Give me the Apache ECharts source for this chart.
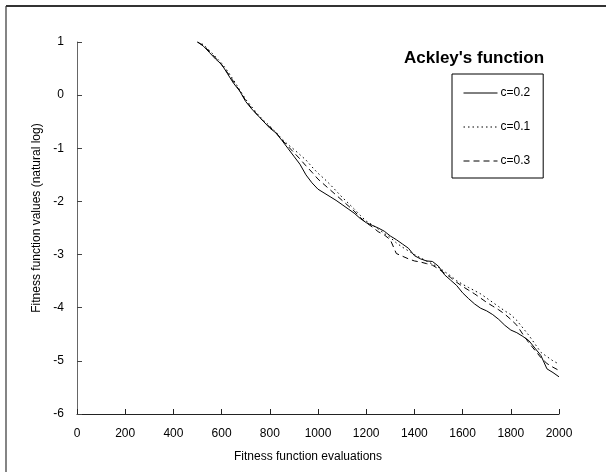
<!DOCTYPE html>
<html>
<head>
<meta charset="utf-8">
<script src="https://cdn.jsdelivr.net/npm/echarts@6/dist/echarts.min.js"></script>
<style>
  html, body { margin: 0; padding: 0; background: #fff; }
  #chart { width: 606px; height: 472px; }
</style>
</head>
<body>
<div id="chart"></div>
<script>
// Fitness function evaluations at which the best value was recorded
const evaluations = [
  500, 525, 550, 575, 600, 625, 650, 675, 700, 725,
  750, 775, 800, 825, 850, 875, 900, 925, 950, 975,
  1000, 1025, 1050, 1075, 1100, 1125, 1150, 1175, 1200, 1225,
  1250, 1275, 1300, 1325, 1350, 1375, 1400, 1425, 1450, 1475,
  1500, 1525, 1550, 1575, 1600, 1625, 1650, 1675, 1700, 1725,
  1750, 1775, 1800, 1825, 1850, 1875, 1900, 1925, 1950, 1975, 2000
];

// Natural log of the best fitness value, one list per setting of c
const c02 = [
  1.00, 0.92, 0.80, 0.68, 0.58, 0.40, 0.22, 0.08, -0.12, -0.26,
  -0.38, -0.50, -0.62, -0.71, -0.85, -1.00, -1.15, -1.30, -1.50, -1.65,
  -1.77, -1.84, -1.91, -1.98, -2.06, -2.14, -2.22, -2.32, -2.40, -2.45,
  -2.50, -2.56, -2.65, -2.72, -2.80, -2.88, -3.02, -3.08, -3.12, -3.13,
  -3.22, -3.38, -3.48, -3.58, -3.72, -3.83, -3.93, -4.01, -4.06, -4.13,
  -4.22, -4.33, -4.42, -4.47, -4.54, -4.62, -4.76, -4.90, -5.15, -5.22, -5.30
];
const c01 = [
  1.00, 0.95, 0.84, 0.72, 0.60, 0.45, 0.28, 0.10, -0.08, -0.22,
  -0.36, -0.48, -0.58, -0.70, -0.82, -0.93, -1.02, -1.12, -1.22, -1.35,
  -1.47, -1.57, -1.68, -1.80, -1.92, -2.03, -2.14, -2.26, -2.37, -2.44,
  -2.52, -2.60, -2.68, -2.78, -2.86, -2.93, -3.00, -3.06, -3.12, -3.18,
  -3.24, -3.32, -3.40, -3.49, -3.56, -3.62, -3.68, -3.74, -3.82, -3.90,
  -3.98, -4.06, -4.13, -4.24, -4.38, -4.52, -4.68, -4.84, -4.92, -5.00, -5.06
];
const c03 = [
  1.00, 0.93, 0.82, 0.70, 0.57, 0.42, 0.25, 0.08, -0.10, -0.25,
  -0.38, -0.50, -0.60, -0.70, -0.84, -0.96, -1.08, -1.20, -1.33, -1.45,
  -1.58, -1.68, -1.78, -1.88, -1.98, -2.08, -2.18, -2.30, -2.40, -2.48,
  -2.57, -2.63, -2.72, -2.98, -3.03, -3.08, -3.12, -3.14, -3.17, -3.20,
  -3.27, -3.35, -3.43, -3.52, -3.60, -3.67, -3.74, -3.82, -3.90, -3.97,
  -4.04, -4.12, -4.22, -4.33, -4.50, -4.66, -4.80, -4.94, -5.05, -5.12, -5.18
];

const seriesNames = ['c=0.2', 'c=0.1', 'c=0.3'];
const FONT = "'Liberation Sans', Arial, sans-serif";

const pairs = ys => evaluations.map((x, i) => [x, ys[i]]);

const chart = echarts.init(document.getElementById('chart'), null, { renderer: 'canvas' });

chart.setOption({
  animation: false,
  backgroundColor: '#fff',
  textStyle: { fontFamily: FONT, color: '#000' },
  title: {
    text: "Ackley's function",
    left: 404,
    top: 50,
    padding: 0,
    textStyle: { fontFamily: FONT, fontSize: 17, fontWeight: 'bold', color: '#000' }
  },
  legend: {
    orient: 'vertical',
    left: 452,
    top: 74,
    padding: [13, 13, 11, 11],
    itemWidth: 34,
    itemHeight: 12,
    itemGap: 22,
    borderColor: '#000',
    borderWidth: 1,
    itemStyle: { opacity: 0 },
    lineStyle: { width: 1 },
    textStyle: { fontFamily: FONT, fontSize: 12, color: '#000', padding: [0, 0, 0, -2] },
    data: seriesNames
  },
  grid: { left: 77, right: 47, top: 42, bottom: 58, containLabel: false },
  xAxis: {
    type: 'value',
    min: 0,
    max: 2000,
    interval: 200,
    name: 'Fitness function evaluations',
    nameLocation: 'middle',
    nameGap: 37,
    nameTextStyle: { fontFamily: FONT, fontSize: 12, color: '#000', padding: [0, 20, 0, 0] },
    axisLine: { onZero: false, lineStyle: { color: '#222', width: 1 } },
    axisTick: { inside: true, length: 5, lineStyle: { color: '#222' } },
    axisLabel: { fontFamily: FONT, fontSize: 12, color: '#000', margin: 14, formatter: v => String(v) },
    splitLine: { show: false }
  },
  yAxis: {
    type: 'value',
    min: -6,
    max: 1,
    interval: 1,
    name: 'Fitness function values (natural log)',
    nameLocation: 'middle',
    nameGap: 29,
    nameTextStyle: { fontFamily: FONT, fontSize: 12, color: '#000', padding: [0, 0, 0, 20] },
    axisLine: { show: true, onZero: false, lineStyle: { color: '#666', width: 1 } },
    axisTick: { show: true, inside: true, length: 5, lineStyle: { color: '#444' } },
    axisLabel: { fontFamily: FONT, fontSize: 12, color: '#000', margin: 13, formatter: v => String(v) },
    splitLine: { show: false }
  },
  series: [
    {
      name: seriesNames[0], type: 'line', data: pairs(c02), symbol: 'none',
      lineStyle: { color: '#000', width: 1, type: 'solid' },
      itemStyle: { color: '#000' }
    },
    {
      name: seriesNames[1], type: 'line', data: pairs(c01), symbol: 'none',
      lineStyle: { color: '#000', width: 1, type: [1.5, 3] },
      itemStyle: { color: '#000' }
    },
    {
      name: seriesNames[2], type: 'line', data: pairs(c03), symbol: 'none',
      lineStyle: { color: '#000', width: 1, type: [6, 4] },
      itemStyle: { color: '#000' }
    }
  ],
  graphic: [
    { type: 'line', silent: true, shape: { x1: 6, y1: 6, x2: 606, y2: 6 }, style: { stroke: '#333', lineWidth: 2 } },
    { type: 'line', silent: true, shape: { x1: 6, y1: 6, x2: 6, y2: 472 }, style: { stroke: '#333', lineWidth: 1.2 } }
  ]
});
</script>
</body>
</html>
